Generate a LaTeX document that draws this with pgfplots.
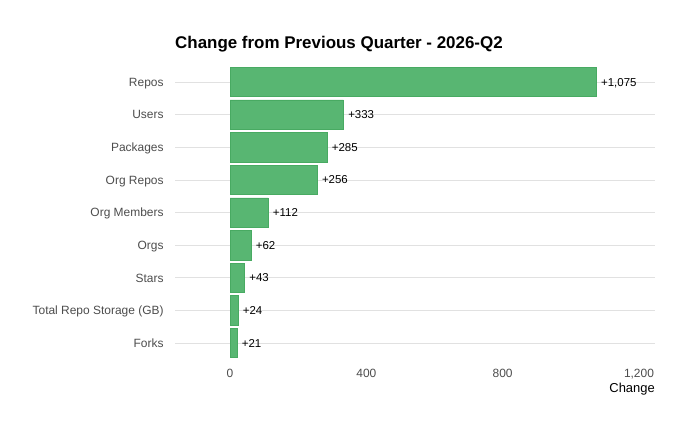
\documentclass[border=0pt]{standalone}
\usepackage{pgfplots}
\pgfplotsset{compat=1.18}
\usepackage{pgfplotstable}
\usepackage{fontspec}
\setmainfont{Liberation Sans}
\definecolor{barfill}{RGB}{88,182,114}
\definecolor{baredge}{RGB}{72,170,98}
\definecolor{ticktext}{RGB}{77,77,77}
\definecolor{gridc}{RGB}{225,225,225}
\pgfplotstableread{
idx val lab
8 1075 +1,075
7 333 +333
6 285 +285
5 256 +256
4 112 +112
3 62 +62
2 43 +43
1 24 +24
0 21 +21
}\changes
\begin{document}
\begin{tikzpicture}
\path[use as bounding box, fill=white] (0,0) rectangle (690bp,431bp);
\begin{axis}[
  at={(175bp,68.4bp)}, anchor=south west,
  scale only axis, width=480bp, height=300.2bp,
  xbar, bar width=0.9,
  xmin=-161.4, xmax=1247, ymin=-0.6, ymax=8.6,
  ytick={0,...,8},
  yticklabels={Forks,Total Repo Storage (GB),Stars,Orgs,Org Members,Org Repos,Packages,Users,Repos},
  xtick={0,400,800,1200},
  /pgf/number format/1000 sep={,},
  /pgf/number format/assume math mode=true,
  axis line style={draw=none},
  major tick style={draw=none},
  ymajorgrids, grid style={draw=gridc, line width=0.6bp},
  yticklabel style={anchor=base east, inner sep=0pt, xshift=-7bp, yshift=-4.3bp, font=\fontsize{12}{14}\selectfont, text=ticktext},
  xticklabel style={anchor=north, inner sep=0pt, yshift=-6.5bp, font=\fontsize{12}{14}\selectfont, text=ticktext},
  point meta=explicit symbolic,
  nodes near coords,
  every node near coord/.append style={anchor=base west, inner sep=0pt, xshift=4.5bp, yshift=-4.1bp, font=\fontsize{11.5}{14}\selectfont, text=black},
]
\addplot[fill=barfill, draw=baredge, line width=0.5bp] table[x=val, y=idx, meta=lab] {\changes};
\end{axis}
\node[anchor=base west, inner sep=0pt, font=\bfseries\fontsize{17}{20}\selectfont] at (175bp,382.5bp) {Change from Previous Quarter - 2026-Q2};
\node[anchor=base east, inner sep=0pt, font=\fontsize{13}{15}\selectfont] at (655bp,39bp) {Change};
\end{tikzpicture}
\end{document}
